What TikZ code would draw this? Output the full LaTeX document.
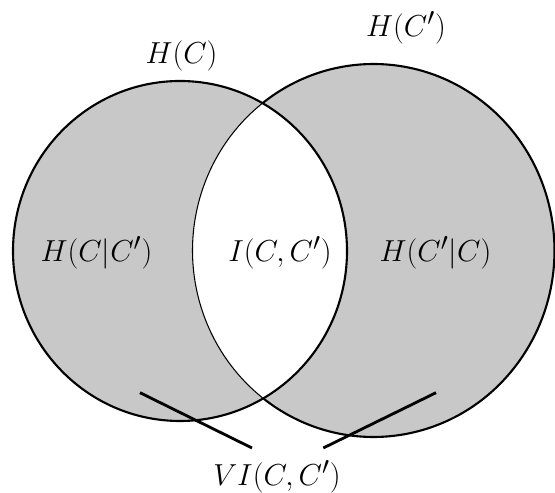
\documentclass[tikz,border=0pt]{standalone}
\usepackage{amsmath,amssymb}
\usepackage{tikz}
\usepackage{xcolor}
\definecolor{venngray}{RGB}{200,200,200}

\begin{document}
\begin{tikzpicture}[x=0.02cm,y=0.02cm,font=\fontsize{19}{23}\selectfont,
  outline/.style={line width=1.2pt},
  lensline/.style={line width=0.6pt},
  pointer/.style={line width=1.6pt}]
\useasboundingbox (0,0) rectangle (555,493);
% shaded parts, lens left white
\fill[venngray] (180,242) ellipse [x radius=167,y radius=170];
\fill[venngray] (373.5,242.5) ellipse [x radius=181,y radius=186.5];
\begin{scope}
\clip (180,242) ellipse [x radius=167,y radius=170];
\fill[white] (373.5,242.5) ellipse [x radius=181,y radius=186.5];
\end{scope}
% outlines
\draw[lensline] (373.5,242.5) ++(127.8:181 and 186.5) arc[start angle=127.8,end angle=232.2,x radius=181,y radius=186.5];
\draw[outline] (373.5,242.5) ++(-127.8:181 and 186.5) arc[start angle=-127.8,end angle=127.8,x radius=181,y radius=186.5];
\draw[outline] (180,242) ellipse [x radius=167,y radius=170];
% labels
\node (hc) at (181.5,437) {$H(C)$};
\node (hcprime) at (406,465.5) {$H(C')$};
\node (hcond) at (96.5,240) {$H(C|C')$};
\node (mutinf) at (280,240) {$I(C,C')$};
\node (hcondprime) at (435.5,240) {$H(C'|C)$};
\node (varinf) at (277,16) {$VI(C,C')$};
% pointers to the two shaded parts
\coordinate (vi-left) at (252,45);
\coordinate (vi-right) at (323.3,45);
\coordinate (hcond-tip) at (140,100.3);
\coordinate (hcondprime-tip) at (436,100.3);
\draw[pointer] (vi-left) -- (hcond-tip);
\draw[pointer] (vi-right) -- (hcondprime-tip);
\end{tikzpicture}
\end{document}
